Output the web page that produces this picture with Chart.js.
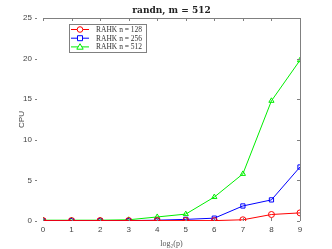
<!DOCTYPE html>
<html><head><meta charset="utf-8">
<script src="https://cdn.jsdelivr.net/npm/chart.js@4/dist/chart.umd.min.js"></script>
<style>html,body{margin:0;padding:0;background:#fff;}#wrap{width:332px;height:249px;}</style>
</head><body><div id="wrap"><canvas id="c" width="332" height="249"></canvas></div>
<script>
const xLabels = [0,1,2,3,4,5,6,7,8,9];
const yTicks = [0,5,10,15,20,25];
const seriesNames = ['RAHK n = 128','RAHK n = 256','RAHK n = 512'];
const red128 = [0.05,0.05,0.05,0.05,0.05,0.05,0.05,0.15,0.8,1.0];
const blue256 = [0.05,0.05,0.05,0.05,0.1,0.2,0.35,1.85,2.6,6.65];
const green512 = [0.1,0.1,0.1,0.15,0.5,0.85,2.95,5.8,14.8,19.8];
const titleText = 'randn, m = 512';

const gray = '#808080';
const frame = {
  id:'frame',
  afterDraw(chart){
    const ctx = chart.ctx, a = chart.chartArea, xs = chart.scales.x, ys = chart.scales.y;
    ctx.save();
    ctx.strokeStyle = gray; ctx.lineWidth = 1;
    ctx.beginPath();
    ctx.moveTo(a.left, a.top+0.5); ctx.lineTo(a.right+0.5, a.top+0.5); ctx.lineTo(a.right+0.5, a.bottom);
    ctx.stroke();
    ctx.beginPath();
    xLabels.forEach(v=>{const px=Math.round(xs.getPixelForValue(v))+0.5; ctx.moveTo(px,a.top); ctx.lineTo(px,a.top+3); ctx.moveTo(px,a.bottom); ctx.lineTo(px,a.bottom-3);});
    yTicks.forEach(v=>{const py=Math.round(ys.getPixelForValue(v))+0.5; ctx.moveTo(a.right,py); ctx.lineTo(a.right-3,py); ctx.moveTo(a.left-8,py); ctx.lineTo(a.left-6,py);});
    ctx.stroke();
    // title
    ctx.fillStyle='#222'; ctx.font='bold 9px "DejaVu Serif", serif'; ctx.textAlign='center'; ctx.textBaseline='middle';
    ctx.fillText(titleText,(a.left+a.right)/2,11);
    // legend
    const bx=69, by=24, bw=77, bh=28;
    ctx.fillStyle='#fff'; ctx.fillRect(bx,by,bw,bh);
    ctx.strokeStyle=gray; ctx.strokeRect(bx+0.5,by+0.5,bw,bh);
    ctx.font='7.5px "Liberation Serif", serif'; ctx.textAlign='left';
    chart.data.datasets.forEach((ds,i)=>{
      const y = by+5.5+i*8.7;
      ctx.strokeStyle=ds.borderColor; ctx.lineWidth=1;
      ctx.beginPath(); ctx.moveTo(bx+2,y); ctx.lineTo(bx+20,y); ctx.stroke();
      const cx=bx+11;
      ctx.beginPath();
      if(ds.pointStyle==='circle'){ctx.arc(cx,y,2.8,0,Math.PI*2);}
      else if(ds.pointStyle==='rect'){ctx.rect(cx-2.5,y-2.5,5,5);}
      else {ctx.moveTo(cx,y-3.2);ctx.lineTo(cx+3.2,y+2.3);ctx.lineTo(cx-3.2,y+2.3);ctx.closePath();}
      ctx.fillStyle='#fff'; ctx.fill(); ctx.stroke();
      ctx.fillStyle='#333'; ctx.fillText(ds.label,bx+27,y+0.5);
    });
    ctx.restore();
  }
};

function mk(label,data,color,ps){
  return {label,data,borderColor:color,backgroundColor:'#fff',borderWidth:1,pointStyle:ps,pointRadius:3,pointBorderWidth:1,pointBackgroundColor:'rgba(255,255,255,0)',tension:0};
}
new Chart(document.getElementById('c'),{
  type:'line',
  data:{labels:xLabels,datasets:[
    mk(seriesNames[0],red128,'#ff0000','circle'),
    mk(seriesNames[1],blue256,'#0000ff','rect'),
    mk(seriesNames[2],green512,'#00ee00','triangle')
  ]},
  options:{
    responsive:false,animation:false,
    layout:{padding:{top:18,right:32,left:0,bottom:0}},
    plugins:{legend:{display:false},title:{display:false},tooltip:{enabled:false}},
    scales:{
      x:{type:'linear',min:0,max:9,
        afterFit(s){s.height=28;},
        afterBuildTicks(s){s.ticks=xLabels.map(v=>({value:v}));},
        grid:{display:false,drawTicks:false},border:{display:false},
        ticks:{color:'#444',font:{size:8,family:'"Liberation Sans", sans-serif'},padding:4,maxRotation:0},
        title:{display:true,text:'log\u2082(p)',color:'#555',font:{size:8,family:'"Liberation Serif", serif'},padding:{top:0,bottom:0}}
      },
      y:{min:0,max:25,
        afterFit(s){s.width=43;},
        afterBuildTicks(s){s.ticks=yTicks.map(v=>({value:v}));},
        grid:{display:false,drawTicks:false},border:{display:false},
        ticks:{color:'#444',font:{size:8,family:'"Liberation Sans", sans-serif'},padding:11},
        title:{display:true,text:'CPU',color:'#444',font:{size:8,family:'"Liberation Sans", sans-serif'},padding:{top:17,bottom:0}}
      }
    }
  },
  plugins:[frame]
});
</script></body></html>
